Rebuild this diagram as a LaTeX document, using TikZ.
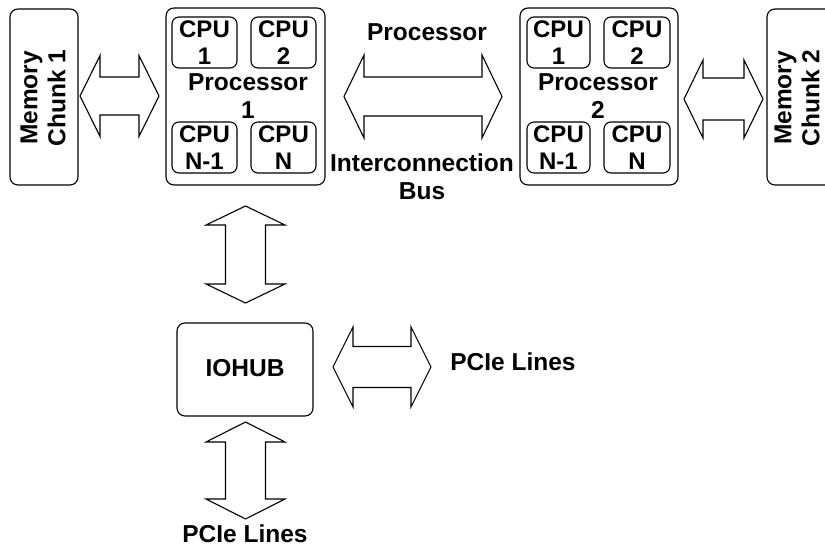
\documentclass[tikz,border=0pt]{standalone}
\usepackage{fontspec}
\setmainfont{Liberation Sans}
\begin{document}
\begin{tikzpicture}[x=1pt,y=-1pt,
  every node/.style={font=\bfseries\fontsize{24.5}{28}\selectfont, inner sep=0pt},
  roundbox/.style={draw, line width=1.1pt, rounded corners=8pt},
  cpubox/.style={draw, line width=1.1pt, rounded corners=7pt, align=center,
    font=\bfseries\fontsize{24}{27}\selectfont},
  fatarrow/.style={draw, line width=1.1pt, line join=miter, fill=white},
  lbl/.style={align=center}]
\useasboundingbox (0,0) rectangle (825,549);

% horizontal double arrow: left tip, right tip, head length, centre y, head half-height, shaft half-height
\newcommand\hfatarrow[6]{%
  \draw[fatarrow] (#1,#4) -- (#1+#3,#4-#5) -- (#1+#3,#4-#6) -- (#2-#3,#4-#6)
    -- (#2-#3,#4-#5) -- (#2,#4) -- (#2-#3,#4+#5) -- (#2-#3,#4+#6)
    -- (#1+#3,#4+#6) -- (#1+#3,#4+#5) -- cycle;}
% vertical double arrow: top tip, bottom tip, head length, centre x, head half-width, shaft half-width
\newcommand\vfatarrow[6]{%
  \draw[fatarrow] (#4,#1) -- (#4+#5,#1+#3) -- (#4+#6,#1+#3) -- (#4+#6,#2-#3)
    -- (#4+#5,#2-#3) -- (#4,#2) -- (#4-#5,#2-#3) -- (#4-#6,#2-#3)
    -- (#4-#6,#1+#3) -- (#4-#5,#1+#3) -- cycle;}

% memory chunks
\draw[roundbox] (10,9) rectangle (78,185);
\node[lbl, rotate=90] (mem1) at (43,98) {Memory\\Chunk 1};
\draw[roundbox] (767,9) rectangle (840,185);
\node[lbl, rotate=90] (mem2) at (797,98) {Memory\\Chunk 2};

% processor 1
\draw[roundbox] (166,8) rectangle (325,185);
\node[cpubox, minimum width=65pt, minimum height=51pt] (p1c1) at (204.5,42.5) {CPU\\1};
\node[cpubox, minimum width=65pt, minimum height=51pt] (p1c2) at (283.5,42.5) {CPU\\2};
\node[cpubox, minimum width=65pt, minimum height=51pt] (p1c3) at (204.5,147.5) {CPU\\N-1};
\node[cpubox, minimum width=65pt, minimum height=51pt] (p1c4) at (283.5,147.5) {CPU\\N};
\node[lbl] (p1) at (248,96) {Processor\\1};

% processor 2
\draw[roundbox] (520,8) rectangle (678,185);
\node[cpubox, minimum width=63pt, minimum height=51pt] (p2c1) at (558.5,42.5) {CPU\\1};
\node[cpubox, minimum width=66pt, minimum height=51pt] (p2c2) at (637,42.5) {CPU\\2};
\node[cpubox, minimum width=63pt, minimum height=51pt] (p2c3) at (558.5,147.5) {CPU\\N-1};
\node[cpubox, minimum width=66pt, minimum height=51pt] (p2c4) at (637,147.5) {CPU\\N};
\node[lbl] (p2) at (598,96) {Processor\\2};

% IO hub
\draw[roundbox] (177,323) rectangle (313,416);
\node (iohub) at (245,368) {IOHUB};

% links
\hfatarrow{80}{159}{20}{96}{40.5}{19}
\hfatarrow{344}{502}{20}{96.5}{41.5}{19.5}
\hfatarrow{684}{763}{19}{99}{39}{21}
\hfatarrow{333}{431}{20}{367}{40}{20.5}
\vfatarrow{206}{303}{19}{245.5}{39.5}{20}
\vfatarrow{422}{519}{20}{245.5}{39.5}{20}

% link labels
\node (busA) at (427,32) {Processor};
\node[lbl] (busB) at (422,177) {Interconnection\\Bus};
\node (pcie1) at (513,362) {PCIe Lines};
\node (pcie2) at (245,534) {PCIe Lines};
\end{tikzpicture}
\end{document}
